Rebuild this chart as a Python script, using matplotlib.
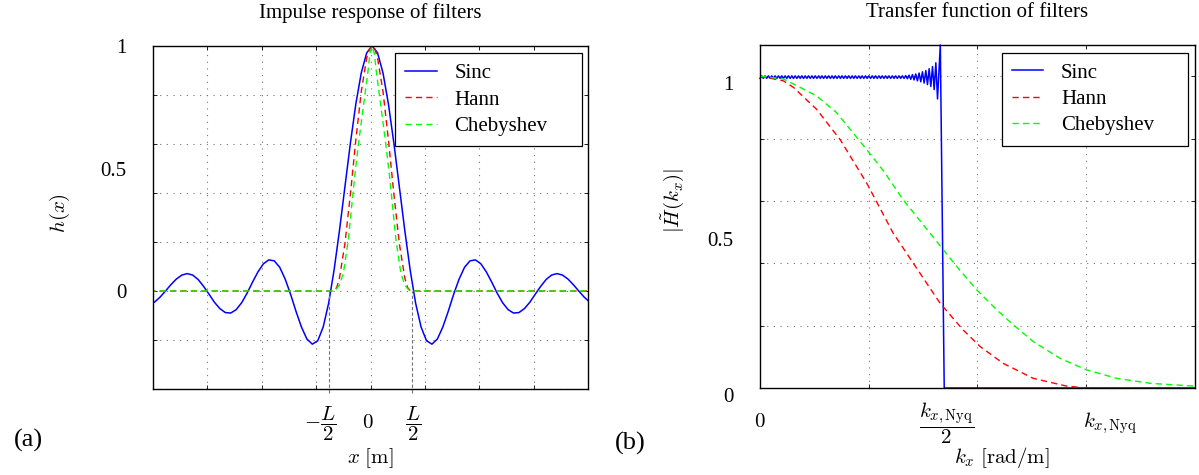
import numpy as np
import matplotlib
matplotlib.use("Agg")
import matplotlib.pyplot as plt

plt.rcParams['font.family'] = 'serif'
plt.rcParams['font.serif'] = ['Liberation Serif', 'DejaVu Serif']
plt.rcParams['mathtext.fontset'] = 'cm'
plt.rcParams['font.size'] = 15

#
# -1- Impulse responses, half curves from the centre outwards
#

centre = 0.03
L_half = 0.76
step_left = 0.1
sinc_half = [1.000, 0.972, 0.890, 0.763, 0.603, 0.426, 0.248, 0.085, -0.050, -0.147,
             -0.203, -0.217, -0.196, -0.147, -0.083, -0.013, 0.049, 0.097, 0.123, 0.127,
             0.111, 0.078, 0.036, -0.009, -0.048, -0.076, -0.090, -0.088, -0.072, -0.046,
             -0.013, 0.019, 0.047, 0.065, 0.071, 0.065, 0.049, 0.026, 0.000, -0.025,
             -0.045, -0.056]
hann_off = [0.0, 0.05, 0.1, 0.2, 0.3, 0.4, 0.5, 0.6, 0.65, 0.705, 4.1]
hann_half = [1.0, 0.988, 0.951, 0.814, 0.616, 0.395, 0.194, 0.054, 0.015, 0.0, 0.0]
cheb_off = [0.0, 0.04, 0.08, 0.16, 0.24, 0.315, 0.376, 0.438, 0.49, 0.53, 0.6, 0.65,
            0.7, 4.1]
cheb_half = [1.0, 0.97, 0.89, 0.755, 0.62, 0.48, 0.346, 0.209, 0.13, 0.072, 0.025,
             0.01, 0.0, 0.0]

xgrid_left = [-3, -2, -1, 0, 1, 2, 3]
ygrid_left = [-0.4, -0.2, 0.0, 0.2, 0.4, 0.6, 0.8, 1.0]
xlab_pos_left = [-0.93, -0.05, 0.78]
xlab_left = [r'$-\dfrac{L}{2}$', r'$0$', r'$\dfrac{L}{2}$']
ylab_pos = [0, 0.5, 1]
ylab_txt = ['0', '0.5', '1']

#
# -2- Transfer functions
#

ripple_step = 0.00385
sinc_ripple = [0.993, 1.001, 0.993, 1.001, 0.993, 1.001, 0.993, 1.001, 0.993, 1.001,
               0.993, 1.001, 0.993, 1.001, 0.993, 1.001, 0.993, 1.001, 0.993, 1.001,
               0.993, 1.001, 0.993, 1.001, 0.993, 1.001, 0.993, 1.001, 0.993, 1.001,
               0.993, 1.001, 0.993, 1.001, 0.993, 1.001, 0.993, 1.001, 0.993, 1.001,
               0.993, 1.001, 0.993, 1.001, 0.993, 1.001, 0.993, 1.001, 0.993, 1.001,
               0.993, 1.001, 0.993, 1.001, 0.993, 1.001, 0.993, 1.001, 0.993, 1.001,
               0.993, 1.001, 0.993, 1.001, 0.993, 1.001, 0.993, 1.001, 0.993, 1.001,
               0.993, 1.001, 0.993, 1.001, 0.993, 1.001, 0.993, 1.001, 0.993, 1.001,
               0.993, 1.001, 0.993, 1.001, 0.993, 1.001, 0.993,
               1.002, 0.992, 1.003, 0.990, 1.005, 0.988, 1.007, 0.985, 1.010, 0.982,
               1.014, 0.978, 1.018, 0.973, 1.024, 0.967, 1.031, 0.957, 1.043, 0.927]
sinc_edge_x = [0.4145, 0.4235, 1.0]
sinc_edge_y = [1.1, 0.0, 0.0]

hann_kx = [0.0, 0.054, 0.077, 0.13, 0.184, 0.245, 0.306, 0.352, 0.414, 0.467,
           0.506, 0.559, 0.628, 0.705, 0.75, 1.0]
hann_H = [1.0, 0.985, 0.964, 0.894, 0.797, 0.658, 0.497, 0.401, 0.272, 0.186,
          0.133, 0.079, 0.031, 0.006, 0.0, 0.0]
cheb_kx = [0.0, 0.054, 0.077, 0.13, 0.176, 0.245, 0.284, 0.329, 0.375, 0.421,
           0.452, 0.498, 0.544, 0.582, 0.628, 0.69, 0.751, 0.82, 0.897, 1.0]
cheb_H = [1.0, 0.991, 0.975, 0.937, 0.883, 0.765, 0.696, 0.604, 0.524, 0.444,
          0.390, 0.315, 0.251, 0.203, 0.149, 0.095, 0.058, 0.031, 0.015, 0.006]

xgrid_right = [0.25, 0.5, 0.75]
ygrid_right = [0.2, 0.4, 0.6, 0.8, 1.0]
xlab_pos_right = [0.0, 0.43, 0.805]
xlab_right = [r'$0$', r'$\dfrac{k_{x,\mathrm{Nyq}}}{2}$', r'$k_{x,\mathrm{Nyq}}$']

names = ['Sinc', 'Hann', 'Chebyshev']
colors = ['#0000ff', '#ff0000', '#00ff00']
dash = (4.5, 3)


def mirror(off, val):
    off = np.asarray(off, dtype=float)
    val = np.asarray(val, dtype=float)
    x = np.concatenate([centre - off[::-1], centre + off[1:]])
    y = np.concatenate([val[::-1], val[1:]])
    return x, y


def style(ax, xgrid, ygrid):
    ax.xaxis.remove_overlapping_locs = False
    ax.yaxis.remove_overlapping_locs = False
    ax.set_xticks(xgrid, minor=True)
    ax.set_yticks(ygrid, minor=True)
    ax.grid(which='minor', linestyle=(0, (1, 5)), color='0.45', linewidth=0.8)
    ax.grid(which='major', visible=False)
    ax.tick_params(which='minor', direction='in', length=3, width=0.6,
                   top=True, right=True)
    ax.tick_params(which='major', length=0)
    ax.tick_params(axis='x', which='major', pad=25)
    ax.tick_params(axis='y', which='major', pad=19)
    for lab in ax.get_xticklabels():
        lab.set_va('center')
    for s in ax.spines.values():
        s.set_linewidth(1.0)


def legend(ax, x0, top):
    ax.legend(loc='upper right', bbox_to_anchor=(x0, 0.3, 0.429, top - 0.3),
              mode='expand', borderaxespad=0, fancybox=False, framealpha=1,
              edgecolor='black', fontsize=15, handlelength=1.5, handletextpad=0.85,
              labelspacing=0.32, borderpad=0.5).get_frame().set_linewidth(0.9)


fig = plt.figure(figsize=(11.99, 4.75), dpi=100)

# -- (a) impulse response
ax1 = fig.add_axes([153 / 1199, 86 / 475, 435 / 1199, 343 / 475])
x_s, y_s = mirror(np.arange(len(sinc_half)) * step_left, sinc_half)
x_h, y_h = mirror(hann_off, hann_half)
x_c, y_c = mirror(cheb_off, cheb_half)
ax1.plot(x_s, y_s, color=colors[0], lw=1.1, label=names[0])
ax1.plot(x_h, y_h, color=colors[1], lw=1.0, dashes=dash, label=names[1])
ax1.plot(x_c, y_c, color=colors[2], lw=1.0, dashes=dash, label=names[2])
ax1.vlines([-L_half, L_half], -0.415, 0.0, colors='0.45', linestyles=(0, (3, 2)),
           linewidth=0.8, clip_on=False)
ax1.set_xlim(-4, 4)
ax1.set_ylim(-0.4, 1.0)
ax1.set_xticks(xlab_pos_left, xlab_left)
ax1.set_yticks(ylab_pos, ylab_txt)
style(ax1, xgrid_left, ygrid_left)
ax1.set_title('Impulse response of filters', fontsize=15, pad=20)
ax1.set_xlabel(r'$x\ [\mathrm{m}]$', fontsize=15, va='center')
ax1.xaxis.set_label_coords(0.5, -0.201)
ax1.set_ylabel(r'$h(x)$', fontsize=15, va='center')
ax1.yaxis.set_label_coords(-0.214, 0.513)
legend(ax1, 0.5563, 0.9787)

# -- (b) transfer function
ax2 = fig.add_axes([760 / 1199, 87 / 475, 435 / 1199, 343 / 475])
kx_s = np.concatenate([np.arange(len(sinc_ripple)) * ripple_step, sinc_edge_x])
H_s = np.concatenate([sinc_ripple, sinc_edge_y])
ax2.plot(kx_s, H_s, color=colors[0], lw=1.1, label=names[0], clip_on=False)
ax2.plot(hann_kx, hann_H, color=colors[1], lw=1.0, dashes=dash, label=names[1],
         clip_on=False)
ax2.plot(cheb_kx, cheb_H, color=colors[2], lw=1.0, dashes=dash, label=names[2],
         clip_on=False)
ax2.set_xlim(0, 1)
ax2.set_ylim(0, 1.1)
ax2.set_xticks(xlab_pos_right, xlab_right)
ax2.set_yticks(ylab_pos, ylab_txt)
style(ax2, xgrid_right, ygrid_right)
for lab in ax2.get_yticklabels():
    lab.set_va('top')
ax2.set_title('Transfer function of filters', fontsize=15, pad=20)
ax2.set_xlabel(r'$k_x\ [\mathrm{rad/m}]$', fontsize=15, va='center')
ax2.xaxis.set_label_coords(0.557, -0.204)
ax2.set_ylabel(r'$|\tilde{H}(k_x)|$', fontsize=15, va='center')
ax2.yaxis.set_label_coords(-0.202, 0.548)
legend(ax2, 0.5556, 0.9776)

fig.text(28 / 1199, 1 - 440 / 475, '(a)', fontsize=19, ha='center', va='center')
fig.text(630 / 1199, 1 - 443 / 475, '(b)', fontsize=19, ha='center', va='center')

fig.savefig('out.png', dpi=100)
